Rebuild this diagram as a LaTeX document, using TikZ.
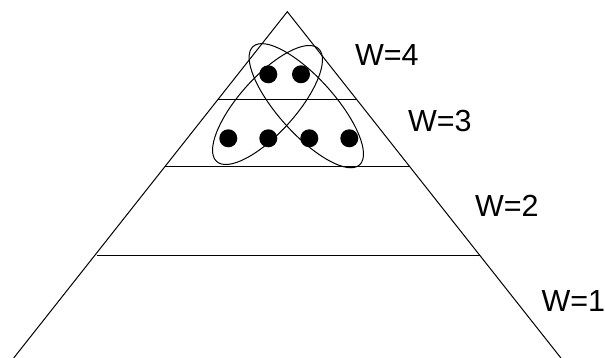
\documentclass[tikz,border=0pt]{standalone}
\usepackage{fontspec}
\setmainfont{Liberation Sans}

\begin{document}
\begin{tikzpicture}[x=0.4pt, y=-0.4pt, thin, every node/.style={font=\fontsize{12.2}{14}\selectfont, inner sep=0pt, anchor=base west}, dot/.style={fill=black}]
	\useasboundingbox (0,0) rectangle (605,358);
	\coordinate (apex) at (287.3,11.7);
	\coordinate (bl) at (13.7,358);
	\coordinate (br) at (560.9,358);
	\draw (bl) -- (apex) -- (br);
	\draw (218.1,99.3) -- (356.5,99.3);
	\draw (164.8,166.7) -- (409.8,166.7);
	\draw (96.5,255.5) -- (479.9,255.5);
	\foreach \x in {268.3,301}
		\fill[dot] (\x,74.3) circle (9);
	\foreach \x in {228.3,268.3,309.3,349.3}
		\fill[dot] (\x,138.3) circle (9);
	\draw[shift={(306.3,105.7)}, rotate=-48] (0,0) ellipse [x radius=79.6, y radius=28];
	\draw[shift={(267.5,105)}, rotate=48] (0,0) ellipse [x radius=76, y radius=28];
	\node (w4) at (354.5,66) {W=4};
	\node (w3) at (407.5,132) {W=3};
	\node (w2) at (474.5,217) {W=2};
	\node (w1) at (541,311.7) {W=1};
\end{tikzpicture}
\end{document}
